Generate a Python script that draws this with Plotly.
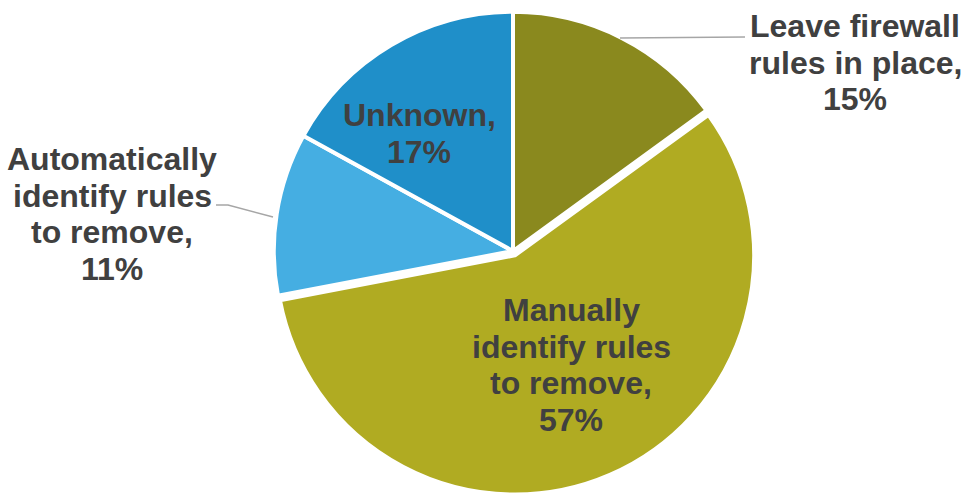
import plotly.graph_objects as go

categories = ["Leave firewall rules in place", "Manually identify rules to remove",
              "Automatically identify rules to remove", "Unknown"]
label_lines = [["Leave firewall", "rules in place,"],
               ["Manually", "identify rules", "to remove,"],
               ["Automatically", "identify rules", "to remove,"],
               ["Unknown,"]]
values = [15, 57, 11, 17]
colors = ["#8A891E", "#B0AB22", "#45AEE2", "#1F8FC9"]
pulls = [0, 0.02, 0, 0]

W, H = 961, 495
TOP = 7
fig = go.Figure(go.Pie(
    values=values,
    labels=categories,
    sort=False,
    direction="clockwise",
    rotation=0,
    pull=pulls,
    marker=dict(colors=colors, line=dict(color="white", width=4)),
    textinfo="none",
    hoverinfo="skip",
    showlegend=False,
    domain=dict(x=[(513 - 250) / W, (513 + 250) / W], y=[0, 1]),
))

def px(x, y):
    return x / W, 1 - (y - TOP) / (H - TOP)

font = dict(family="Liberation Sans, Arial, Helvetica, sans-serif", size=32, color="#404040")
# label anchor: (center x, first baseline y), line step
label_pos = [(855, 37), (571, 321), (112, 170), (419, 126)]
STEP = 36.7
for lines, v, (x, y0) in zip(label_lines, values, label_pos):
    all_lines = lines + [f"{v}%"]
    for i, ln in enumerate(all_lines):
        X, Y = px(x, y0 + i * STEP - 11)
        fig.add_annotation(x=X, y=Y, xref="paper", yref="paper", showarrow=False,
                           text=f"<b>{ln}</b>", font=font, align="center",
                           xanchor="center", yanchor="middle")

def path(pts):
    s = ""
    for i, (x, y) in enumerate(pts):
        X, Y = px(x, y)
        s += ("M" if i == 0 else "L") + f"{X},{Y} "
    return s

fig.add_shape(type="path", xref="paper", yref="paper", path=path([(620, 38), (745, 37)]),
              line=dict(color="#A6A6A6", width=1.5))
fig.add_shape(type="path", xref="paper", yref="paper", path=path([(273, 217), (228, 205), (216, 205)]),
              line=dict(color="#A6A6A6", width=1.5))

fig.update_layout(width=W, height=H, margin=dict(l=0, r=0, t=TOP, b=0),
                  paper_bgcolor="white", plot_bgcolor="white")
fig.write_html("out.html")
